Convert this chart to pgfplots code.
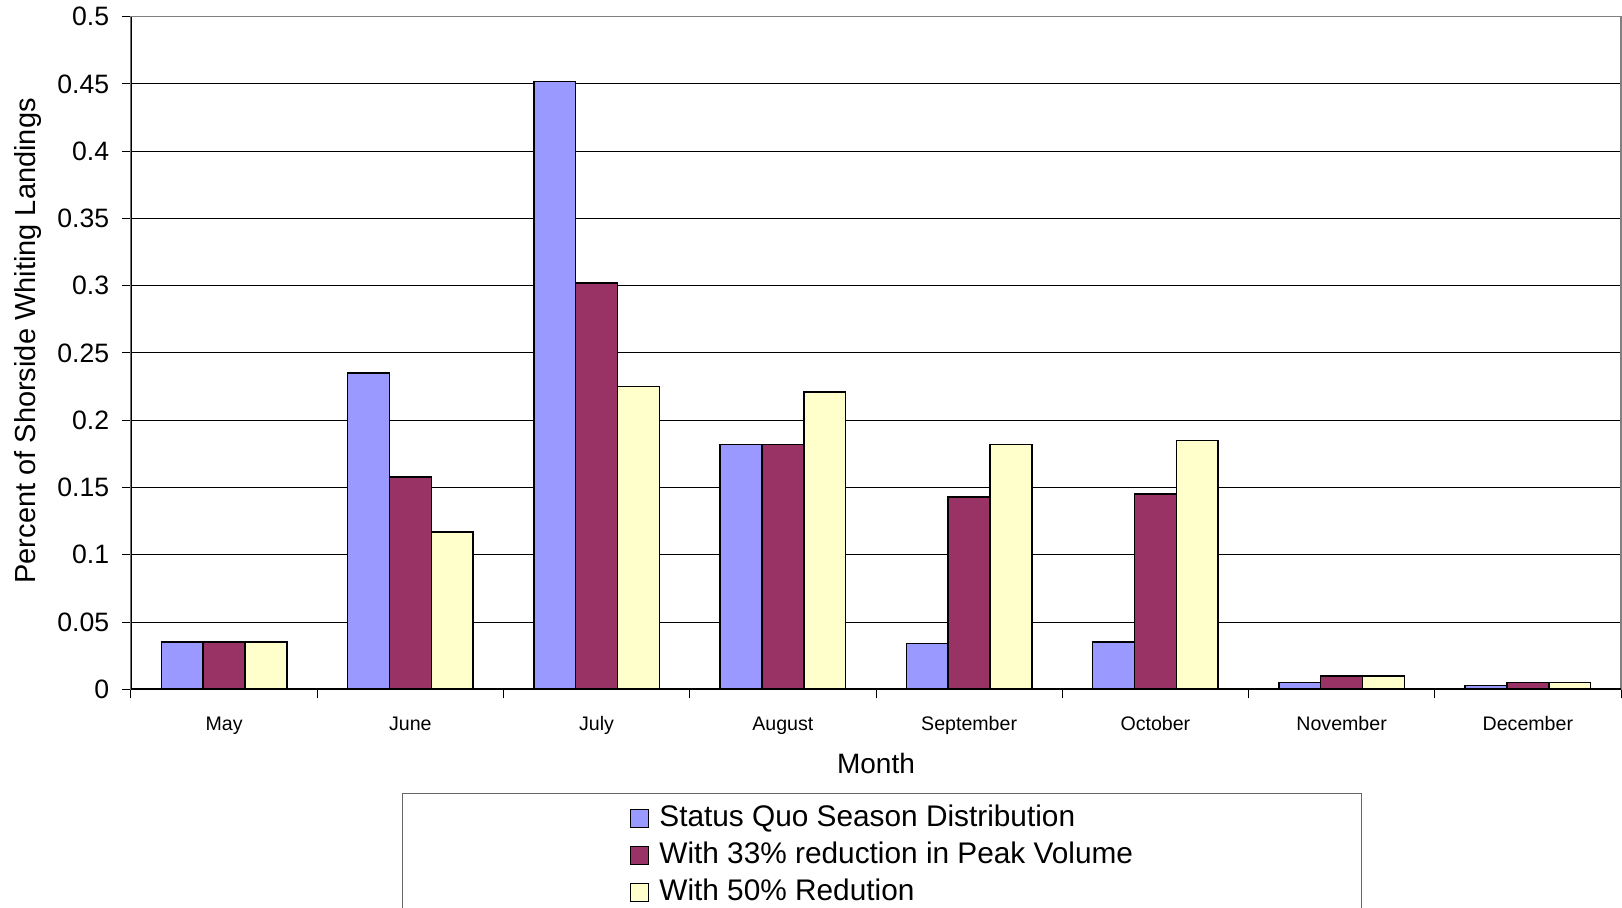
\documentclass[border=0pt]{standalone}
\usepackage{fontspec}
\setmainfont{Liberation Sans}
\usepackage{pgfplots}
\pgfplotsset{compat=1.18}

\definecolor{sqblue}{HTML}{9999FF}
\definecolor{sqplum}{HTML}{993366}
\definecolor{sqcream}{HTML}{FFFFCC}

\pgfplotsset{
  sq/.style={legend image code/.code={%
    \draw[##1, draw=black, line width=0.6pt] (0pt,-4.5pt) rectangle (9pt,4.5pt);}},
}

\begin{document}
\begin{tikzpicture}
\begin{axis}[
    at={(0,0)}, anchor=south west,
    scale only axis,
    width=745pt, height=336.3pt,
    ybar=0pt, bar width=20.9pt,
    xmin=-0.5, xmax=7.5,
    ymin=0, ymax=0.5,
    xtick={-0.5,0.5,...,7.5},
    x tick label as interval,
    xticklabels={May,June,July,August,September,October,November,December},
    ytick={0,0.05,...,0.5},
    tick pos=left,
    yticklabel style={/pgf/number format/fixed, /pgf/number format/precision=2,
        /pgf/number format/assume math mode=true,
        font=\fontsize{13.3}{15}\selectfont, inner xsep=6.25pt},
    xticklabel style={font=\fontsize{9.8}{11}\selectfont, yshift=-5.7pt},
    tick align=outside,
    major tick length=4.5pt,
    tick style={black, line width=0.5pt},
    ymajorgrids,
    grid style={black, line width=0.5pt},
    axis line style={draw=gray, line width=0.8pt},
    xlabel={Month},
    ylabel={Percent of Shorside Whiting Landings},
    xlabel style={font=\fontsize{14}{16}\selectfont,
        at={(axis description cs:0.5,-0.1096)}, anchor=center},
    ylabel style={font=\fontsize{14.5}{16}\selectfont,
        at={(axis description cs:-0.0644,0.518)}, anchor=base},
    legend style={at={(axis description cs:0.5038,-0.1546)}, anchor=north,
        draw=gray!80!black, line width=0.6pt,
        inner xsep=114pt, inner ysep=5.35pt,
        font=\fontsize{14.9}{17}\selectfont, row sep=4.3pt, column sep=5pt,
        nodes={inner sep=0pt, text height=11pt, text depth=3.2pt}},
    legend cell align=left,
]
\addplot[sq, fill=sqblue, draw=black, line width=0.75pt] coordinates {
    (0,0.035) (1,0.235) (2,0.452) (3,0.182) (4,0.034) (5,0.035) (6,0.005) (7,0.003)};
\addlegendentry{Status Quo Season Distribution}
\addplot[sq, fill=sqplum, draw=black, line width=0.75pt] coordinates {
    (0,0.035) (1,0.158) (2,0.302) (3,0.182) (4,0.143) (5,0.145) (6,0.010) (7,0.005)};
\addlegendentry{With 33\% reduction in Peak Volume}
\addplot[sq, fill=sqcream, draw=black, line width=0.75pt] coordinates {
    (0,0.035) (1,0.117) (2,0.225) (3,0.221) (4,0.182) (5,0.185) (6,0.010) (7,0.005)};
\addlegendentry{With 50\% Redution}
\draw[black, line width=0.8pt] (rel axis cs:0,1) -- (rel axis cs:0,0) -- (rel axis cs:1,0);
\end{axis}
\pgfresetboundingbox
\useasboundingbox (-65.5pt,-109.35pt) rectangle (745.5pt,344.65pt);
\end{tikzpicture}
\end{document}
